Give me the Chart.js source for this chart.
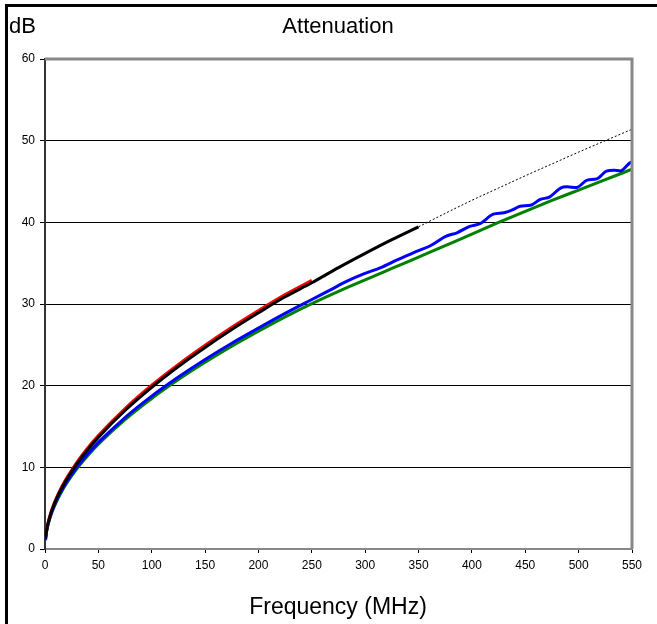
<!DOCTYPE html>
<html>
<head>
<meta charset="utf-8">
<title>Attenuation</title>
<script src="https://cdn.jsdelivr.net/npm/chart.js@4.4.0/dist/chart.umd.min.js"></script>
<style>
  html, body { margin: 0; padding: 0; background: #fff; }
  #wrap { width: 657px; height: 624px; }
</style>
</head>
<body>
<div id="wrap"><canvas id="chartAtt" width="657" height="624"></canvas></div>
<script>
// Dados (MHz / dB)
const freqBase = [0.5, 1, 2, 3, 5, 7, 10, 15, 20, 30, 40, 50, 75, 100, 125, 150, 175, 200, 225, 250];
const redVals = [1.35, 1.9, 2.68, 3.28, 4.25, 5.05, 6.05, 7.45, 8.62, 10.65, 12.38, 13.9, 17.2, 20.05, 22.6, 24.95, 27.15, 29.2, 31.15, 32.9];

const freqBlack = [0.5, 1, 2, 3, 5, 7, 10, 15, 20, 30, 40, 50, 75, 100, 125, 150, 175, 200, 225, 250, 275, 300, 325, 350];
const blackVals = [1.3, 1.84, 2.61, 3.2, 4.15, 4.93, 5.92, 7.3, 8.46, 10.45, 12.16, 13.67, 16.96, 19.8, 22.35, 24.68, 26.87, 28.92, 30.88, 32.6, 34.45, 36.2, 37.88, 39.45];

const freqDotted = [350, 375, 400, 425, 450, 475, 500, 525, 550];
const dottedVals = [39.45, 41.1, 42.7, 44.2, 45.7, 47.15, 48.6, 50.0, 51.4];

const freqGreen = [0.5, 1, 2, 3, 5, 7, 10, 15, 20, 30, 40, 50, 75, 100, 125, 150, 175, 200, 225, 250, 275, 300, 325, 350, 375, 400, 425, 450, 475, 500, 525, 550];
const greenVals = [1.1, 1.75, 2.48, 3.04, 3.94, 4.67, 5.6, 6.89, 7.99, 9.84, 11.41, 12.82, 15.84, 18.43, 20.74, 22.86, 24.83, 26.67, 28.43, 30.05, 31.55, 32.95, 34.35, 35.75, 37.15, 38.55, 39.98, 41.35, 42.68, 43.95, 45.22, 46.5];

const freqBlue = [0.5, 1, 2, 3, 5, 7, 10, 15, 20, 30, 40, 50, 75, 100, 125, 150, 175, 200, 225, 250, 267, 283, 298, 314, 330, 345, 361, 376, 386, 398, 408, 420, 430, 439, 445, 455, 464, 473, 483, 489, 498, 508, 517, 526, 533, 539, 548, 550];
const blueVals = [1.1, 1.8, 2.55, 3.12, 4.03, 4.77, 5.72, 7.03, 8.15, 10.02, 11.62, 13.05, 16.1, 18.72, 21.05, 23.2, 25.2, 27.05, 28.85, 30.55, 31.7, 32.8, 33.66, 34.43, 35.4, 36.27, 37.13, 38.31, 38.72, 39.5, 39.86, 41.0, 41.17, 41.58, 41.98, 42.1, 42.8, 43.12, 44.19, 44.35, 44.27, 45.17, 45.32, 46.27, 46.39, 46.3, 47.28, 47.4];

const xTicks = [0, 50, 100, 150, 200, 250, 300, 350, 400, 450, 500, 550];
const yTicks = [0, 10, 20, 30, 40, 50, 60];

function pontos(xs, ys) {
  return xs.map((x, i) => ({ x: x, y: ys[i] }));
}

const fonte = "'Liberation Sans', Arial, sans-serif";

// moldura e textos
const moldura = {
  id: "moldura",
  beforeDraw(chart) {
    const c = chart.ctx;
    c.save();
    c.fillStyle = "#fff";
    c.fillRect(0, 0, chart.width, chart.height);
    c.fillStyle = "#000";
    c.fillRect(5, 4, chart.width, 3);
    c.fillRect(5, 4, 3, chart.height);
    c.restore();
  },
  afterDraw(chart) {
    const a = chart.chartArea;
    const c = chart.ctx;
    c.save();
    c.strokeStyle = "#888";
    c.lineWidth = 3;
    c.beginPath();
    c.moveTo(a.left, a.top);
    c.lineTo(a.right, a.top);
    c.lineTo(a.right, a.bottom);
    c.stroke();

    c.fillStyle = "#000";
    c.font = "22px " + fonte;
    c.textBaseline = "middle";
    c.textAlign = "left";
    c.fillText("dB", 9, 27);
    c.textAlign = "center";
    c.fillText("Attenuation", 338, 27);
    c.font = "23px " + fonte;
    c.fillText("Frequency (MHz)", 338, 608);
    c.restore();
  }
};

const ctx = document.getElementById("chartAtt");
new Chart(ctx, {
  type: "line",
  data: {
    datasets: [
      { label: "black", data: pontos(freqBlack, blackVals), borderColor: "#000", borderWidth: 3 },
      { label: "red", data: pontos(freqBase, redVals), borderColor: "#ff0000", borderWidth: 3 },
      { label: "dotted", data: pontos(freqDotted, dottedVals), borderColor: "#000", borderWidth: 1, borderDash: [2, 2] },
      { label: "blue", data: pontos(freqBlue, blueVals), borderColor: "#0000ff", borderWidth: 3 },
      { label: "green", data: pontos(freqGreen, greenVals), borderColor: "#008000", borderWidth: 3 }
    ]
  },
  options: {
    responsive: false,
    animation: false,
    events: [],
    layout: { padding: { top: 59, right: 25, bottom: 0, left: 0 } },
    elements: {
      point: { radius: 0 },
      line: { cubicInterpolationMode: "monotone", fill: false }
    },
    plugins: { legend: { display: false }, tooltip: { enabled: false }, title: { display: false } },
    scales: {
      x: {
        type: "linear",
        min: 0,
        max: 550,
        afterFit: s => { s.height = 75; },
        afterBuildTicks: s => { s.ticks = xTicks.map(v => ({ value: v })); },
        grid: { drawOnChartArea: false, drawTicks: true, tickLength: 4, tickColor: "#000" },
        border: { display: true, color: "#888", width: 2 },
        ticks: { color: "#000", font: { family: fonte, size: 12 }, padding: 5, maxRotation: 0 }
      },
      y: {
        min: 0,
        max: 60,
        afterFit: s => { s.width = 45; },
        afterBuildTicks: s => { s.ticks = yTicks.map(v => ({ value: v })); },
        grid: {
          color: c => (c.tick && (c.tick.value === 0 || c.tick.value === 60)) ? "rgba(0,0,0,0)" : "#000",
          lineWidth: 1,
          tickLength: 5,
          tickColor: "#000"
        },
        border: { display: true, color: "#333", width: 2 },
        ticks: { color: "#000", font: { family: fonte, size: 12 }, padding: 5 }
      }
    }
  },
  plugins: [moldura]
});
</script>
</body>
</html>
